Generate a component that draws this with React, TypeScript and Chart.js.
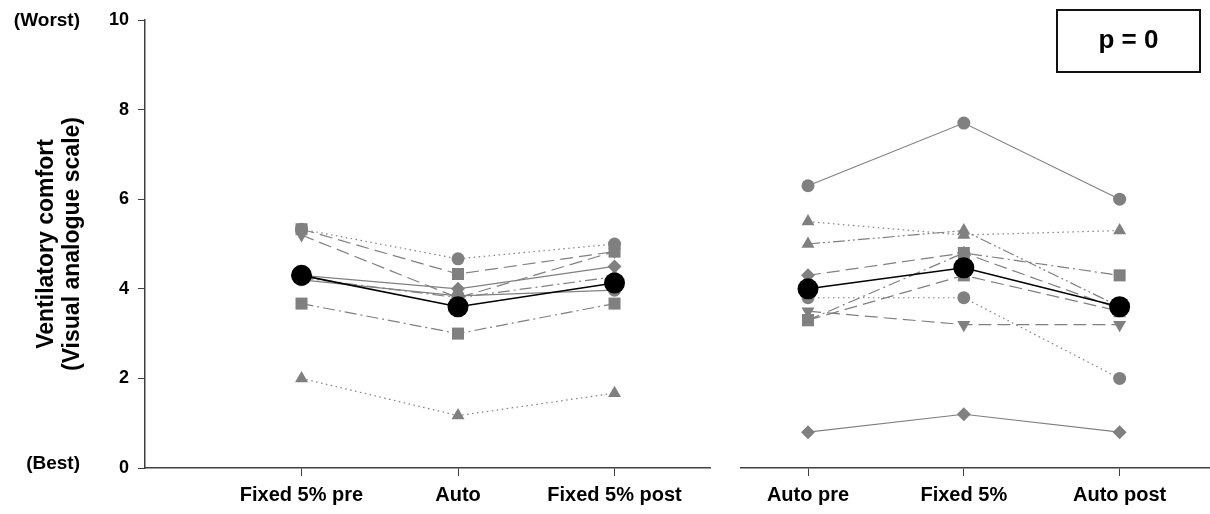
import React, { useEffect, useRef } from 'react';
import { Chart, registerables } from 'chart.js';

Chart.register(...registerables);

// ---------- data ----------
const leftCategories = ['Fixed 5% pre', 'Auto', 'Fixed 5% post'];
const rightCategories = ['Auto pre', 'Fixed 5%', 'Auto post'];
const yTicks = [0, 2, 4, 6, 8, 10];

const leftMean = [4.3, 3.6, 4.13];
const leftS1 = [5.33, 4.67, 5.0];
const leftS2 = [5.33, 4.33, 4.83];
const leftS3 = [5.2, 3.8, 4.83];
const leftS4 = [4.3, 4.0, 4.5];
const leftS5 = [4.2, 3.84, 3.97];
const leftS6 = [4.25, 3.8, 4.27];
const leftS7 = [3.67, 3.0, 3.67];
const leftS8 = [2.0, 1.17, 1.67];

const rightMean = [4.0, 4.47, 3.6];
const rightS1 = [6.3, 7.7, 6.0];
const rightS2 = [5.5, 5.2, 5.3];
const rightS3 = [5.0, 5.3, 3.6];
const rightS4 = [4.3, 4.8, 3.55];
const rightS5 = [3.3, 4.8, 4.3];
const rightS6 = [3.3, 4.3, 3.5];
const rightS7 = [3.8, 3.8, 2.0];
const rightS8 = [3.5, 3.2, 3.2];
const rightS9 = [0.8, 1.2, 0.8];

const yTitle = ['Ventilatory comfort', '(Visual analogue scale)'];
const worstLabel = '(Worst)';
const bestLabel = '(Best)';
const pLabel = 'p = 0';

// ---------- styles ----------
const FONT = '"Liberation Sans", Arial, Helvetica, sans-serif';
const GRAY = '#808080';
const AXIS = '#404040';
const DOT = [1.5, 3.5];
const LONG = [13, 6];
const DASHDOT = [12, 4, 2, 4];
const DASHDOTDOT = [12, 3, 2, 3, 2, 3];
const SOLID: number[] = [];

type St = { point: string; rot?: number; dash: number[]; r: number };
const circ = (dash: number[]): St => ({ point: 'circle', dash, r: 6.5 });
const sq = (dash: number[]): St => ({ point: 'rect', dash, r: 8.5 });
const dia = (dash: number[]): St => ({ point: 'rectRot', dash, r: 7 });
const tri = (dash: number[]): St => ({ point: 'triangle', dash, r: 7.5 });
const triDown = (dash: number[]): St => ({ point: 'triangle', rot: 180, dash, r: 7.5 });

const leftSeries: [number[], St][] = [
  [leftS1, circ(DOT)],
  [leftS2, sq(LONG)],
  [leftS3, triDown(LONG)],
  [leftS4, dia(SOLID)],
  [leftS5, circ(SOLID)],
  [leftS6, dia(DASHDOT)],
  [leftS7, sq(DASHDOT)],
  [leftS8, tri(DOT)],
];

const rightSeries: [number[], St][] = [
  [rightS1, circ(SOLID)],
  [rightS2, tri(DOT)],
  [rightS3, tri(DASHDOTDOT)],
  [rightS4, dia(LONG)],
  [rightS5, sq(DASHDOT)],
  [rightS6, sq(LONG)],
  [rightS7, circ(DOT)],
  [rightS8, triDown(LONG)],
  [rightS9, dia(SOLID)],
];

function buildDatasets(mean: number[], series: [number[], St][]) {
  const sets: any[] = [
    {
      data: mean.map((v, i) => ({ x: i + 1, y: v })),
      borderColor: '#000',
      backgroundColor: '#000',
      borderWidth: 1.6,
      pointStyle: 'circle',
      pointRadius: 10.5,
      pointBorderWidth: 0,
    },
  ];
  series.forEach(([vals, st]) => {
    sets.push({
      data: vals.map((v, i) => ({ x: i + 1, y: v })),
      borderColor: GRAY,
      backgroundColor: GRAY,
      borderWidth: 1.2,
      borderDash: st.dash,
      pointStyle: st.point,
      pointRotation: st.rot || 0,
      pointRadius: st.r,
      pointBorderWidth: 0,
    });
  });
  return sets;
}

const yTickFont = { family: FONT, size: 18, weight: 'bold' as const };
const xTickFont = { family: FONT, size: 20, weight: 'bold' as const };

function xScale(cats: string[], min: number, max: number) {
  return {
    type: 'linear' as const,
    min,
    max,
    afterBuildTicks: (s: any) => {
      s.ticks = cats.map((_, i) => ({ value: i + 1 }));
    },
    afterFit: (s: any) => {
      s.height = 46;
    },
    ticks: {
      callback: (v: any) => cats[Math.round(Number(v)) - 1] ?? '',
      font: xTickFont,
      color: '#000',
      padding: 7,
      autoSkip: false,
      maxRotation: 0,
    },
    grid: { display: true, drawOnChartArea: false, tickLength: 8, color: AXIS, lineWidth: 1 },
    border: { display: true, color: AXIS, width: 1.5 },
  };
}

function ChartCanvas({ config, style, width, height }: any) {
  const ref = useRef<HTMLCanvasElement | null>(null);
  useEffect(() => {
    if (!ref.current) return;
    const chart = new Chart(ref.current, config);
    return () => chart.destroy();
  }, []);
  return <canvas ref={ref} width={width} height={height} style={style} />;
}

export default function App() {
  const leftConfig: any = {
    type: 'line',
    data: { datasets: buildDatasets(leftMean, leftSeries) },
    options: {
      animation: false,
      responsive: false,
      layout: { autoPadding: false, padding: { top: 20, right: 10, left: 0, bottom: 0 } },
      plugins: { legend: { display: false }, tooltip: { enabled: false } },
      scales: {
        x: xScale(leftCategories, 0, 3.61),
        y: {
          min: 0,
          max: 10,
          afterBuildTicks: (s: any) => {
            s.ticks = yTicks.map((v) => ({ value: v }));
          },
          afterFit: (s: any) => {
            s.width = 145;
          },
          ticks: { font: yTickFont, color: '#000', padding: 9 },
          grid: { display: true, drawOnChartArea: false, tickLength: 7, color: AXIS, lineWidth: 1 },
          border: { display: true, color: AXIS, width: 1.5 },
          title: {
            display: true,
            text: yTitle,
            font: { family: FONT, size: 23, weight: 'bold', lineHeight: 26 / 23 },
            color: '#000',
            padding: { top: 34, bottom: 0 },
          },
        },
      },
    },
  };

  const rightConfig: any = {
    type: 'line',
    data: { datasets: buildDatasets(rightMean, rightSeries) },
    options: {
      animation: false,
      responsive: false,
      layout: { autoPadding: false, padding: { top: 20, right: 0, left: 11, bottom: 0 } },
      plugins: { legend: { display: false }, tooltip: { enabled: false } },
      scales: {
        x: xScale(rightCategories, 0.57, 3.58),
        y: { min: 0, max: 10, display: false },
      },
    },
  };

  const labelStyle: React.CSSProperties = {
    position: 'absolute',
    fontFamily: FONT,
    fontWeight: 'bold',
    fontSize: 19,
    color: '#000',
    lineHeight: '22px',
    whiteSpace: 'nowrap',
  };

  return (
    <div style={{ position: 'absolute', left: 0, top: 0, width: 1210, height: 514, background: '#fff', overflow: 'hidden' }}>
      <ChartCanvas config={leftConfig} width={720} height={514} style={{ position: 'absolute', left: 0, top: 0 }} />
      <ChartCanvas config={rightConfig} width={480} height={514} style={{ position: 'absolute', left: 730, top: 0 }} />
      <div style={{ ...labelStyle, right: 1210 - 80, top: 9 }}>{worstLabel}</div>
      <div style={{ ...labelStyle, right: 1210 - 80, top: 452 }}>{bestLabel}</div>
      <div
        style={{
          position: 'absolute',
          left: 1056,
          top: 9,
          width: 145,
          height: 64,
          boxSizing: 'border-box',
          border: '2px solid #111',
          display: 'flex',
          alignItems: 'center',
          justifyContent: 'center',
          fontFamily: FONT,
          fontWeight: 'bold',
          fontSize: 26,
          color: '#000',
          paddingBottom: 4,
        }}
      >
        {pLabel}
      </div>
    </div>
  );
}
